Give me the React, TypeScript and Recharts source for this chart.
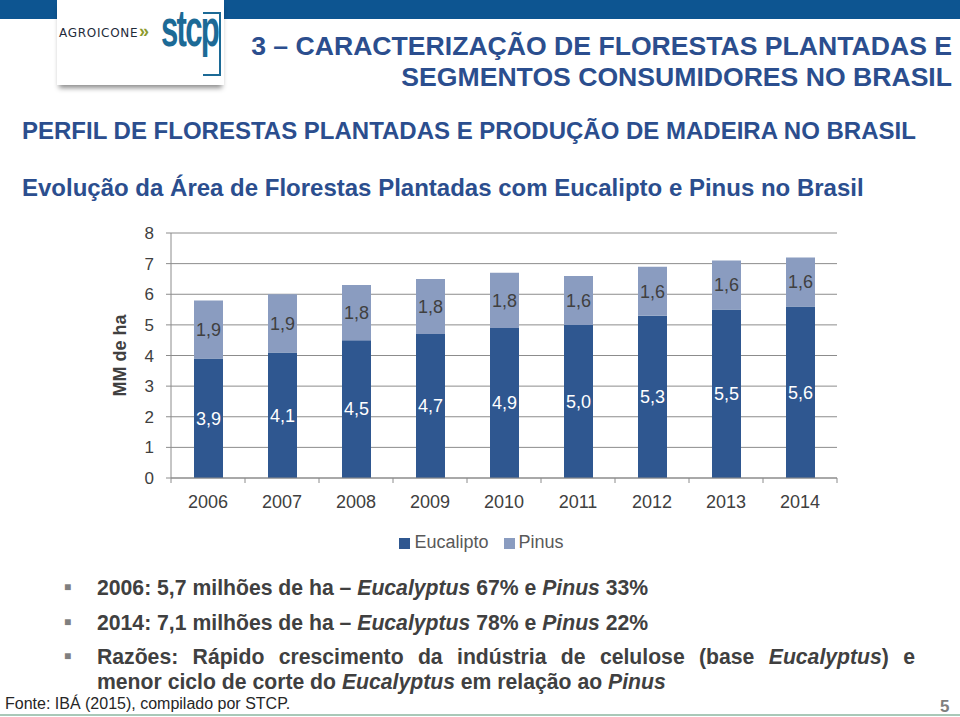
import React from "react";
import { BarChart, Bar, XAxis, YAxis, CartesianGrid, Legend, LabelList } from "recharts";

const years = ["2006", "2007", "2008", "2009", "2010", "2011", "2012", "2013", "2014"];
const eucalipto = [3.9, 4.1, 4.5, 4.7, 4.9, 5.0, 5.3, 5.5, 5.6];
const pinus = [1.9, 1.9, 1.8, 1.8, 1.8, 1.6, 1.6, 1.6, 1.6];
const yTicks = [0, 1, 2, 3, 4, 5, 6, 7, 8];

const data = years.map((year, i) => ({ year, Eucalipto: eucalipto[i], Pinus: pinus[i] }));

const FONT = "'Liberation Sans', Arial, sans-serif";
const BLUE_TXT = "#2B4E8E";
const EUC = "#2F5790";
const PIN = "#8A9CC0";
const GRID = "#8C8C8C";
const TICK_SIZE = 5;
const TICK_GAP = 12;

const fmt = (v: any) => Number(v).toFixed(1).replace(".", ",");

// text placed by its baseline
function Line({ baseline, fs, left, right, width, style, children }: any) {
  return (
    <div
      style={{
        position: "absolute",
        top: baseline - 0.8465 * fs,
        left,
        right,
        width,
        fontSize: fs,
        lineHeight: `${fs}px`,
        fontFamily: FONT,
        whiteSpace: "nowrap",
        ...style,
      }}
    >
      {children}
    </div>
  );
}

function YearTick(props: any) {
  const { x, y, payload, index, visibleTicksCount } = props;
  const half = payload.offset ?? 37;
  const axisY = y - TICK_SIZE - TICK_GAP;
  return (
    <g>
      <line x1={x - half} x2={x - half} y1={axisY} y2={axisY + TICK_SIZE} stroke={GRID} />
      {index === visibleTicksCount - 1 && (
        <line x1={x + half} x2={x + half} y1={axisY} y2={axisY + TICK_SIZE} stroke={GRID} />
      )}
      <text x={x} y={y} dy="0.71em" textAnchor="middle" fill="#404040" fontSize={18} fontFamily={FONT}>
        {payload.value}
      </text>
    </g>
  );
}

function AxisTitle(props: any) {
  const vb = props.viewBox || {};
  const cx = vb.x - 11;
  const cy = vb.y + vb.height / 2;
  return (
    <text
      x={cx}
      y={cy}
      transform={`rotate(-90 ${cx} ${cy})`}
      textAnchor="middle"
      dominantBaseline="central"
      fontSize={18}
      fontWeight="bold"
      fill="#404040"
      fontFamily={FONT}
    >
      MM de ha
    </text>
  );
}

const bullet = (
  <span style={{ position: "absolute", left: -33, top: 0, fontSize: 12, color: "#7f7f7f" }}>■</span>
);

export default function App() {
  return (
    <div style={{ position: "absolute", left: 0, top: 0, width: 960, height: 717, background: "#fff", overflow: "hidden" }}>
      {/* top band + logo */}
      <div style={{ position: "absolute", left: 0, top: 0, width: 960, height: 19, background: "#0D5591" }} />
      <div
        style={{
          position: "absolute",
          left: 57,
          top: 0,
          width: 167,
          height: 85,
          background: "#fff",
          boxShadow: "0 5px 5px -2px rgba(0,0,0,0.45)",
        }}
      >
        <div style={{ position: "absolute", left: 2, top: 26, fontSize: 12, letterSpacing: 0.7, color: "#1E2B3A", fontFamily: "'DejaVu Sans', sans-serif" }}>
          AGROICONE
        </div>
        <div style={{ position: "absolute", left: 82, top: 21, fontSize: 18, fontWeight: "bold", color: "#8C9A2C", fontFamily: FONT }}>»</div>
        <div
          style={{
            position: "absolute",
            left: 104,
            top: 2,
            fontSize: 52,
            lineHeight: "52px",
            fontWeight: "bold",
            letterSpacing: -3,
            transform: "scaleX(0.6)",
            transformOrigin: "left top",
            color: "#1C6A96",
            fontFamily: FONT,
          }}
        >
          stcp
        </div>
        <div style={{ position: "absolute", left: 146, top: 12, width: 16, height: 60, border: "2px solid #1C6A96", borderLeft: "none" }} />
      </div>

      <Line baseline={56} fs={26.6} right={8} style={{ fontWeight: "bold", color: BLUE_TXT, textAlign: "right" }}>
        3 – CARACTERIZAÇÃO DE FLORESTAS PLANTADAS E
      </Line>
      <Line baseline={87} fs={26.6} right={8} style={{ fontWeight: "bold", color: BLUE_TXT, textAlign: "right" }}>
        SEGMENTOS CONSUMIDORES NO BRASIL
      </Line>
      <Line baseline={139.5} fs={24} left={22} style={{ fontWeight: "bold", color: BLUE_TXT }}>
        PERFIL DE FLORESTAS PLANTADAS E PRODUÇÃO DE MADEIRA NO BRASIL
      </Line>
      <Line baseline={196.5} fs={24} left={22} style={{ fontWeight: "bold", color: BLUE_TXT }}>
        Evolução da Área de Florestas Plantadas com Eucalipto e Pinus no Brasil
      </Line>

      <div style={{ position: "absolute", left: 0, top: 220 }}>
        <BarChart width={960} height={340} data={data} margin={{ top: 13, right: 123, left: 131, bottom: 52 }}>
          <CartesianGrid vertical={false} stroke={GRID} />
          <XAxis
            dataKey="year"
            axisLine={{ stroke: GRID }}
            tickLine={false}
            tickSize={TICK_SIZE}
            tickMargin={TICK_GAP}
            interval={0}
            tick={<YearTick />}
            height={30}
          />
          <YAxis
            domain={[0, 8]}
            ticks={yTicks}
            interval={0}
            width={40}
            tickSize={5}
            tickMargin={12}
            axisLine={{ stroke: GRID }}
            tickLine={{ stroke: GRID }}
            tick={{ fontSize: 17, fill: "#404040", fontFamily: FONT }}
            label={<AxisTitle />}
          />
          <Legend
            layout="horizontal"
            verticalAlign="middle"
            align="center"
            iconType="square"
            iconSize={11}
            wrapperStyle={{ position: "absolute", top: 312, left: 379, width: 220, textAlign: "left", fontFamily: FONT, fontSize: 18 }}
            formatter={(v: any) => <span style={{ color: "#595959", marginRight: 5 }}>{v}</span>}
          />
          <Bar dataKey="Eucalipto" stackId="a" fill={EUC} barSize={29} isAnimationActive={false}>
            <LabelList dataKey="Eucalipto" position="center" fill="#fff" fontSize={18} fontFamily={FONT} formatter={fmt} />
          </Bar>
          <Bar dataKey="Pinus" stackId="a" fill={PIN} barSize={29} isAnimationActive={false}>
            <LabelList dataKey="Pinus" position="center" fill="#404040" fontSize={18} fontFamily={FONT} formatter={fmt} />
          </Bar>
        </BarChart>
      </div>

      {/* bullets */}
      <div style={{ position: "absolute", left: 97, top: 0, color: "#404040", fontWeight: "bold" }}>
        <Line baseline={595} fs={21.2} left={0}>
          {bullet}2006: 5,7 milhões de ha – <i>Eucalyptus</i> 67% e <i>Pinus</i> 33%
        </Line>
        <Line baseline={630} fs={21.2} left={0}>
          {bullet}2014: 7,1 milhões de ha – <i>Eucalyptus</i> 78% e <i>Pinus</i> 22%
        </Line>
        <Line baseline={664} fs={21.2} left={0} width={818} style={{ textAlign: "justify", textAlignLast: "justify", whiteSpace: "normal" }}>
          {bullet}Razões: Rápido crescimento da indústria de celulose (base <i>Eucalyptus</i>) e
        </Line>
        <Line baseline={689} fs={21.2} left={0}>
          menor ciclo de corte do <i>Eucalyptus</i> em relação ao <i>Pinus</i>
        </Line>
      </div>

      <Line baseline={710} fs={16} left={5} style={{ color: "#262626" }}>
        Fonte: IBÁ (2015), compilado por STCP.
      </Line>
      <Line baseline={712} fs={17} left={940} style={{ color: "#7F7F7F", fontWeight: "bold" }}>
        5
      </Line>
      <div style={{ position: "absolute", left: 0, top: 714, width: 960, height: 2, background: "#A9C8B8" }} />
    </div>
  );
}
